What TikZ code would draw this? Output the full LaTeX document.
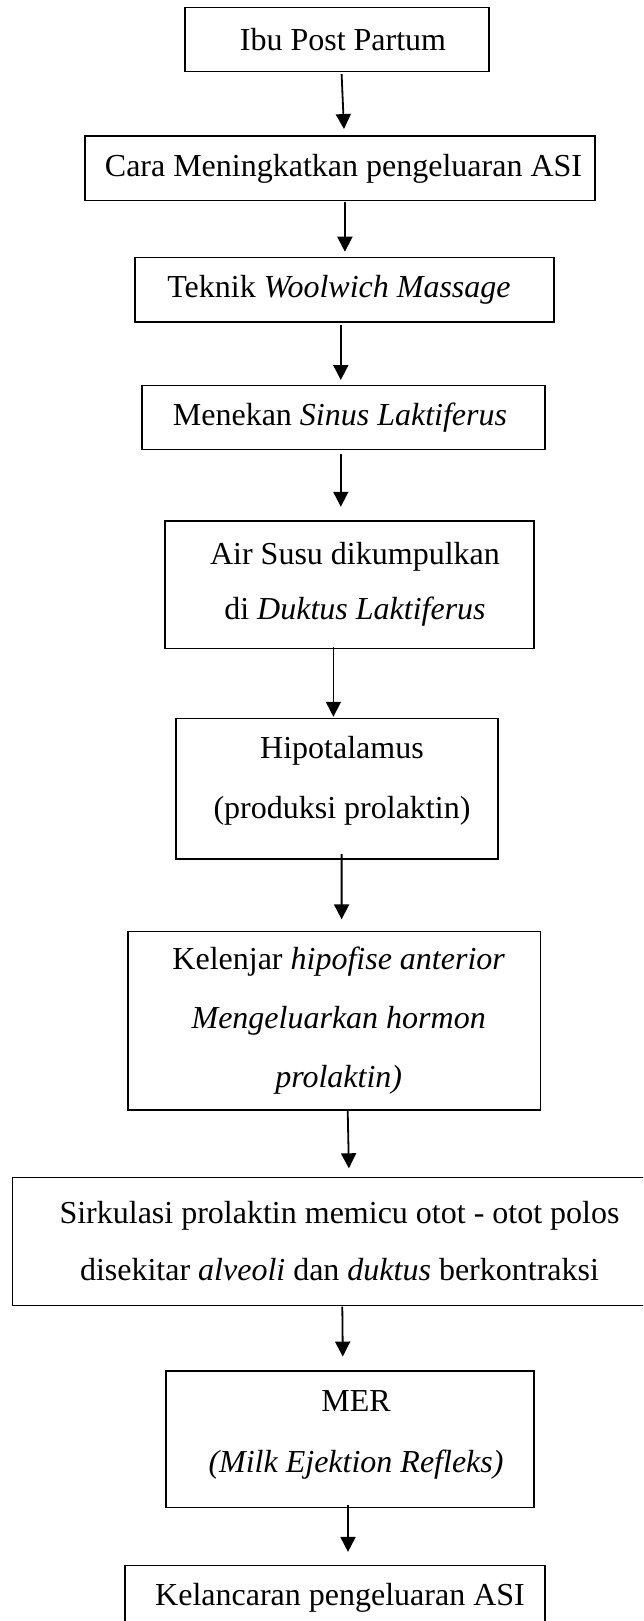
\documentclass[tikz,border=0pt]{standalone}
\usepackage{fontspec}
\setmainfont{Liberation Serif}
\usetikzlibrary{arrows.meta}
\newcommand{\pre}[1]{\hspace*{#1}}
\begin{document}
\begin{tikzpicture}[x=1pt,y=-1pt,
  box/.style={draw, line width=1.3pt, rectangle, inner sep=0pt, outer sep=0pt, align=center,
    font=\fontsize{32pt}{58pt}\selectfont},
  arr/.style={line width=1.8pt, -{Triangle[length=15pt,width=15pt]}}]
\useasboundingbox (0,0) rectangle (643,1621);
\clip (0,0) rectangle (643,1621);

\node[box, minimum width=304pt, minimum height=64pt] (b1) at (337,39.4) {\pre{12pt}Ibu Post Partum};
\node[box, minimum width=510pt, minimum height=64.7pt] (b2) at (340,168.4) {\pre{7pt}Cara Meningkatkan pengeluaran ASI};
\node[box, minimum width=419pt, minimum height=64.7pt] (b3) at (344.5,289.7) {Teknik \textit{Woolwich Massage}\pre{11pt}};
\node[box, minimum width=403pt, minimum height=63.6pt] (b4) at (343.5,417.5) {Menekan \textit{Sinus Laktiferus}\pre{7pt}};
\node[box, minimum width=369pt, minimum height=127.3pt, font=\fontsize{32pt}{55pt}\selectfont] (b5) at (349.5,584.7)
  {\pre{11pt}Air Susu dikumpulkan\\\pre{11pt}di \textit{Duktus Laktiferus}};
\node[box, minimum width=322pt, minimum height=140.7pt, font=\fontsize{32pt}{60pt}\selectfont] (b6) at (337,788.7)
  {\pre{10pt}Hipotalamus\\\pre{10pt}(produksi prolaktin)\rule[-23pt]{0pt}{0pt}};
\node[box, minimum width=412.5pt, minimum height=178.3pt, font=\fontsize{32pt}{59pt}\selectfont] (b7) at (334.2,1020.9)
  {\pre{9pt}Kelenjar \textit{hipofise anterior}\\\pre{9pt}\textit{Mengeluarkan hormon}\\\pre{9pt}\textit{prolaktin)}};
\node[box, minimum width=654pt, minimum height=128pt, font=\fontsize{32pt}{57pt}\selectfont] (b8) at (339.5,1241.5)
  {Sirkulasi prolaktin memicu otot - otot polos\\disekitar \textit{alveoli} dan \textit{duktus} berkontraksi};
\node[box, minimum width=368pt, minimum height=136.3pt, font=\fontsize{32pt}{61pt}\selectfont] (b9) at (350,1439)
  {\pre{12pt}MER\\\pre{12pt}\textit{(Milk Ejektion Refleks)}\rule[-14pt]{0pt}{0pt}};
\node[box, minimum width=420pt, minimum height=64pt] (b10) at (335,1597.7) {\pre{10pt}Kelancaran pengeluaran ASI};

\draw[arr] ([xshift=4.6pt,yshift=-2.7pt]b1.south) -- ([xshift=4pt,yshift=7pt]b2.north);
\draw[arr] ([xshift=4.9pt,yshift=-1pt]b2.south) -- ([xshift=0.4pt,yshift=5.6pt]b3.north);
\draw[arr] ([xshift=-3.7pt,yshift=-2.7pt]b3.south) -- ([xshift=-2.7pt,yshift=5.7pt]b4.north);
\draw[arr] ([xshift=-2.7pt,yshift=-5pt]b4.south) -- ([xshift=-8.7pt,yshift=14.3pt]b5.north);
\draw[arr] ([xshift=-16.1pt,yshift=1.6pt]b5.south) -- ([xshift=-3.6pt,yshift=1.6pt]b6.north);
\draw[arr] ([xshift=4.6pt,yshift=5pt]b6.south) -- ([xshift=7.4pt,yshift=12.4pt]b7.north);
\draw[arr] ([xshift=13.5pt,yshift=-0.7pt]b7.south) -- ([xshift=9.4pt,yshift=9.2pt]b8.north);
\draw[arr] ([xshift=2.8pt,yshift=-1.2pt]b8.south) -- ([xshift=-7.2pt,yshift=14.3pt]b9.north);
\draw[arr] ([xshift=-2pt,yshift=2.3pt]b9.south) -- ([xshift=13pt,yshift=13.8pt]b10.north);
\end{tikzpicture}
\end{document}
